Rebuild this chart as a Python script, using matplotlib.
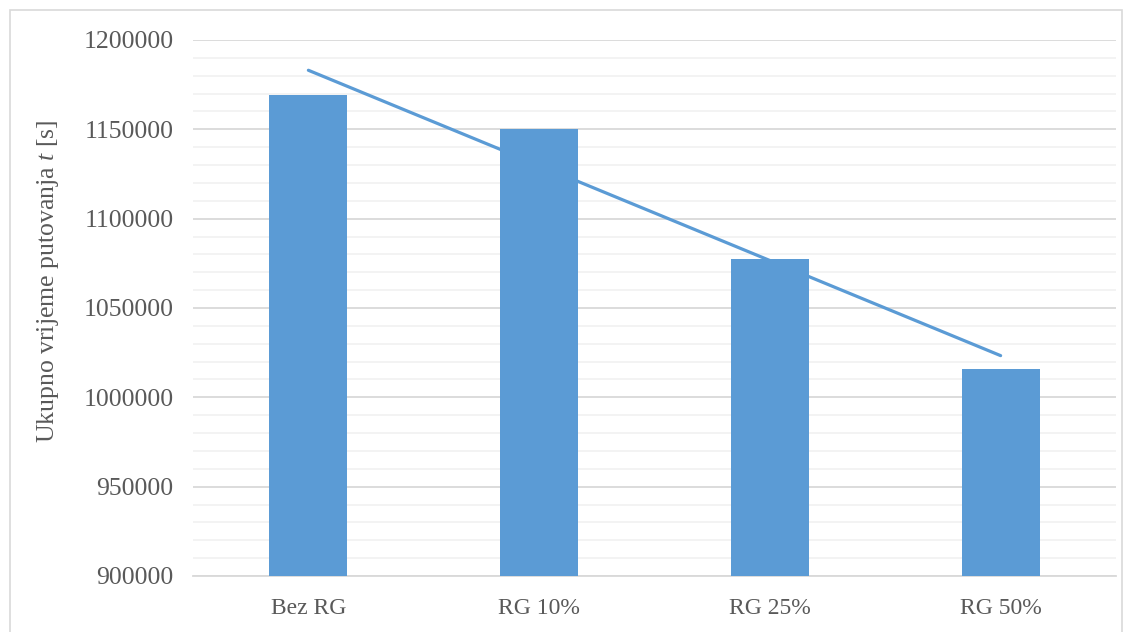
import numpy as np
import matplotlib
matplotlib.use("Agg")
import matplotlib.pyplot as plt
from matplotlib.patches import Rectangle
from matplotlib.ticker import MultipleLocator

categories = ["Bez RG", "RG 10%", "RG 25%", "RG 50%"]
values = [1169200, 1150200, 1077400, 1016000]
y_ticks = [900000, 950000, 1000000, 1050000, 1100000, 1150000, 1200000]

plt.rcParams['font.family'] = ['Liberation Serif', 'DejaVu Serif']
plt.rcParams['mathtext.fontset'] = 'custom'
plt.rcParams['mathtext.it'] = 'Liberation Serif:italic'
plt.rcParams['mathtext.rm'] = 'Liberation Serif'

W, H = 1132, 632
fig = plt.figure(figsize=(W / 100, H / 100), dpi=100)
ax = fig.add_axes([193 / W, 1 - 576 / H, (1116 - 193) / W, (576 - 40) / H])

x = np.arange(len(categories))
bar_color = "#5B9BD5"
ax.bar(x, values, width=0.338, color=bar_color, zorder=3)

# linear trendline (least squares, as in the spreadsheet)
coef = np.polyfit(x, values, 1)
ax.plot(x, np.polyval(coef, x), color=bar_color, lw=2.3, zorder=4, solid_capstyle='round')

ax.set_xlim(-0.5, len(categories) - 0.5)
ax.set_ylim(900000, 1200000)
ax.set_yticks(y_ticks)
ax.set_yticklabels([str(v) for v in y_ticks])
ax.yaxis.set_minor_locator(MultipleLocator(10000))
ax.set_xticks(x)
ax.set_xticklabels(categories)

ax.grid(axis='y', which='major', color='#d9d9d9', lw=1.3, zorder=0)
ax.grid(axis='y', which='minor', color='#f2f2f2', lw=1.3, zorder=0)
ax.set_axisbelow(True)

for s in ['top', 'right', 'left']:
    ax.spines[s].set_visible(False)
ax.spines['bottom'].set_color('#d9d9d9')
ax.spines['bottom'].set_linewidth(1.3)

ax.tick_params(axis='both', which='both', length=0, colors='#595959')
ax.tick_params(axis='y', pad=14, labelsize=18.5)
ax.tick_params(axis='x', pad=16, labelsize=17)

ax.set_ylabel(r"Ukupno vrijeme putovanja $t$ [s]", color='#595959', fontsize=18.5)
ax.yaxis.set_label_coords((61 - 193) / (1116 - 193), (576 - 281) / (576 - 40))

fig.patches.append(Rectangle((10 / W, -0.05), (1122 - 10) / W, 1 - 10 / H + 0.05,
                             transform=fig.transFigure, fill=False,
                             edgecolor='#d9d9d9', lw=1.2))

fig.savefig("out.png", dpi=100, facecolor='white')
